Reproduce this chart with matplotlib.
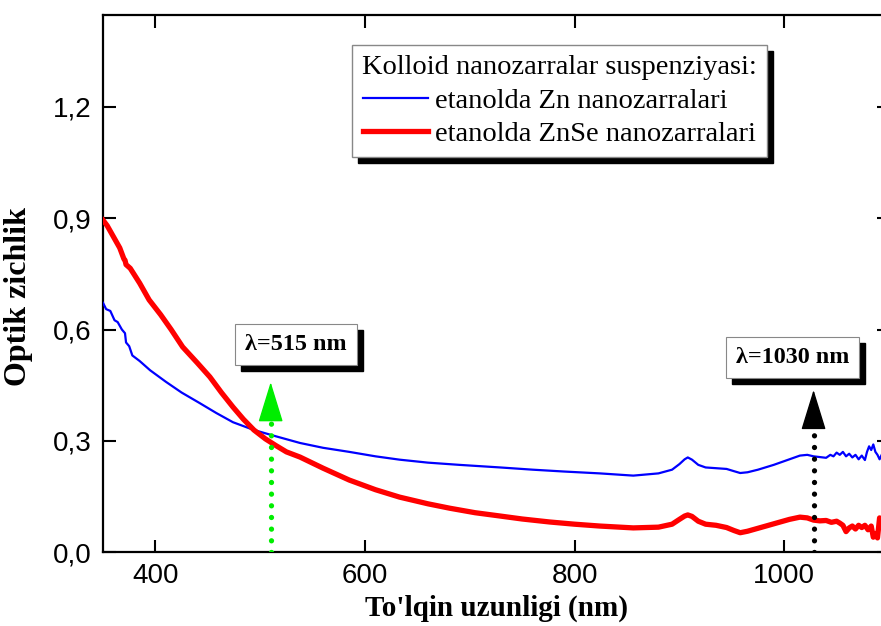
import matplotlib
matplotlib.use("Agg")
import matplotlib.pyplot as plt
from matplotlib.lines import Line2D
from matplotlib.patches import Rectangle
from matplotlib.transforms import IdentityTransform

# ---------------- data ----------------
wl_zn = [350, 353, 357, 361, 364, 368, 371, 372, 375, 378, 385, 395, 410, 425, 442, 458,
         474, 494, 515, 538, 560, 585, 610, 633, 660, 690, 729, 760, 790, 824, 856, 880,
         893, 900, 905, 908, 912, 918, 925, 935, 945, 952, 958, 965, 975, 990, 1005, 1015,
         1022, 1028, 1034, 1040, 1044, 1047, 1050, 1053, 1056, 1059, 1062, 1065, 1068,
         1071, 1074, 1077, 1079, 1081, 1083, 1085, 1087, 1089, 1091, 1094, 1097, 1100]
od_zn = [0.672, 0.655, 0.650, 0.625, 0.620, 0.600, 0.590, 0.565, 0.555, 0.530, 0.515, 0.490,
         0.459, 0.430, 0.402, 0.375, 0.350, 0.329, 0.312, 0.294, 0.281, 0.270, 0.258, 0.249,
         0.241, 0.235, 0.228, 0.222, 0.217, 0.212, 0.206, 0.212, 0.222, 0.237, 0.250, 0.255,
         0.249, 0.235, 0.228, 0.226, 0.224, 0.218, 0.213, 0.215, 0.222, 0.235, 0.250, 0.260,
         0.262, 0.258, 0.256, 0.254, 0.262, 0.258, 0.268, 0.262, 0.270, 0.258, 0.265, 0.255,
         0.262, 0.250, 0.260, 0.248, 0.270, 0.285, 0.275, 0.290, 0.270, 0.262, 0.250, 0.268,
         0.262, 0.272]

wl_znse = [350, 354, 358, 362, 366, 370, 371, 372, 376, 385, 394, 405, 415, 426, 440, 452,
           463, 474, 484, 494, 505, 515, 525, 538, 560, 585, 610, 633, 660, 681, 705, 729,
           750, 776, 800, 824, 856, 880, 893, 900, 905, 908, 912, 918, 925, 935, 945, 952,
           958, 965, 975, 990, 1005, 1015, 1022, 1028, 1034, 1040, 1045, 1050, 1053, 1056,
           1059, 1062, 1065, 1068, 1071, 1074, 1077, 1080, 1083, 1085, 1087, 1089, 1091,
           1094, 1097, 1100]
od_znse = [0.895, 0.880, 0.860, 0.840, 0.820, 0.790, 0.787, 0.775, 0.765, 0.725, 0.680, 0.640,
           0.600, 0.553, 0.510, 0.472, 0.430, 0.391, 0.358, 0.329, 0.305, 0.287, 0.270, 0.256,
           0.226, 0.194, 0.168, 0.148, 0.130, 0.118, 0.106, 0.097, 0.089, 0.081, 0.075, 0.070,
           0.065, 0.067, 0.075, 0.088, 0.097, 0.100, 0.096, 0.083, 0.075, 0.072, 0.066, 0.058,
           0.052, 0.056, 0.064, 0.076, 0.088, 0.094, 0.092, 0.086, 0.084, 0.085, 0.080, 0.083,
           0.078, 0.072, 0.055, 0.065, 0.070, 0.062, 0.072, 0.066, 0.072, 0.060, 0.070, 0.040,
           0.050, 0.038, 0.092, 0.085, 0.090, 0.095]

legend_title = "Kolloid nanozarralar suspenziyasi:"
label_zn = "etanolda Zn nanozarralari"
label_znse = "etanolda ZnSe nanozarralari"
xlabel = "To'lqin uzunligi (nm)"
ylabel = "Optik zichlik"
x_ticks = [400, 600, 800, 1000]
y_ticks = [0.0, 0.3, 0.6, 0.9, 1.2]
y_ticklabels = ["0,0", "0,3", "0,6", "0,9", "1,2"]

marker1_wl, marker1_label = 510, "λ=515 nm"
marker2_wl, marker2_label = 1028, "λ=1030 nm"

# ---------------- figure ----------------
fig = plt.figure(figsize=(8.81, 6.26), dpi=100)
fig.patch.set_facecolor("white")
ax = fig.add_axes([0.1169, 0.1182, 0.8922, 0.8578])

ax.plot(wl_zn, od_zn, color="#0000ff", lw=1.6, zorder=3)
ax.plot(wl_znse, od_znse, color="#ff0000", lw=3.8, zorder=3)

ax.set_xlim(350, 1100)
ax.set_ylim(0, 1.448)
ax.set_xticks(x_ticks)
ax.set_yticks(y_ticks)
ax.set_yticklabels(y_ticklabels)
ax.tick_params(direction="in", length=9, width=1.5, top=True, right=True,
               labelsize=20, pad=8)
for lab in ax.get_xticklabels() + ax.get_yticklabels():
    lab.set_fontfamily("Liberation Sans")
for sp in ax.spines.values():
    sp.set_linewidth(1.6)

ax.set_xlabel(xlabel, fontfamily="Liberation Serif", fontweight="bold", fontsize=21, labelpad=4)
ax.set_ylabel(ylabel, fontfamily="Liberation Serif", fontweight="bold", fontsize=23)
ax.yaxis.set_label_coords(-0.089, 0.475)

# ---------------- arrows ----------------
def marker_arrow(xw, base, tip, color):
    ax.plot([xw, xw], [0, base], color=color, lw=3.8,
            linestyle=(0, (0.01, 2.2)), dash_capstyle="round", zorder=4)
    ax.annotate("", xy=(xw, tip), xytext=(xw, base),
                arrowprops=dict(arrowstyle="-|>,head_length=2.6,head_width=0.8",
                                mutation_scale=10, color=color, lw=1,
                                shrinkA=0, shrinkB=0), zorder=4)

marker_arrow(marker1_wl, 0.361, 0.458, "#00ee00")
marker_arrow(marker2_wl, 0.340, 0.437, "black")

boxes = []
for xc, yc, text in [(534, 0.56, marker1_label), (1008, 0.525, marker2_label)]:
    t = ax.text(xc, yc, text, fontfamily="Liberation Serif", fontweight="bold",
                fontsize=17.4, ha="center", va="center", color="black", zorder=6,
                bbox=dict(boxstyle="square,pad=0.42", fc="white", ec="#888888", lw=0.8))
    boxes.append(t)

# ---------------- legend ----------------
handles = [Line2D([], [], color="#0000ff", lw=1.6),
           Line2D([], [], color="#ff0000", lw=3.8)]
labels = [label_zn, label_znse]
leg = ax.legend(handles, labels, loc="upper left",
                bbox_to_anchor=(352 / 881, 1 - 45 / 626), bbox_transform=fig.transFigure,
                borderaxespad=0, fancybox=False, handlelength=2.3, handletextpad=0.25,
                labelspacing=0.27, borderpad=0.35, title=legend_title,
                prop=dict(family="Liberation Serif", size=20.5),
                title_fontproperties=dict(family="Liberation Serif", size=20.5))
leg.get_frame().set_facecolor("white")
leg.get_frame().set_edgecolor("#888888")
leg.get_frame().set_linewidth(1.0)
leg.get_frame().set_alpha(1)
leg.set_zorder(8)

# ---------------- drop shadows (black, offset right/down) ----------------
fig.canvas.draw()
off = 6
shadow_targets = [(leg.get_frame().get_window_extent(), 7.5)]
for t in boxes:
    shadow_targets.append((t.get_bbox_patch().get_window_extent(), 5.5))
for bb, z in shadow_targets:
    ax.add_artist(Rectangle((bb.x0 + off, bb.y0 - off), bb.width, bb.height,
                            transform=IdentityTransform(), facecolor="black",
                            edgecolor="black", zorder=z, clip_on=False))

fig.savefig("out.png", dpi=100)
